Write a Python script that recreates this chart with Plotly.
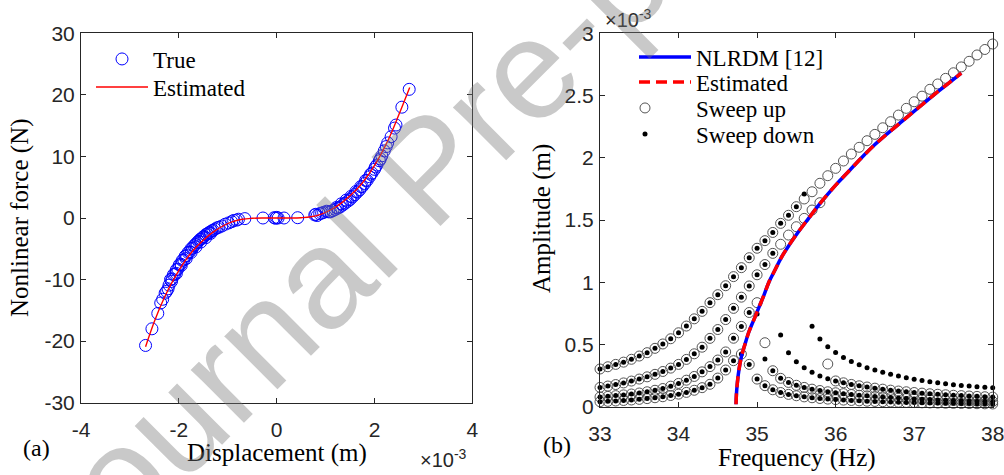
import plotly.graph_objects as go

# ---------------- panel (a): nonlinear restoring force ----------------
# displacement in units of 1e-3 m, force in N
true_disp = [
    -2.68, -2.55, -2.43, -2.37, -2.33, -2.28, -2.25, -2.22,
    -2.20, -2.17, -2.14, -2.11, -2.08, -2.05, -2.02, -1.99, -1.96, -1.93,
    -1.90, -1.87, -1.84, -1.81, -1.78, -1.75, -1.72, -1.69, -1.66, -1.63,
    -1.60, -1.57, -1.54, -1.51, -1.48, -1.45, -1.42, -1.39, -1.36, -1.33,
    -1.30, -1.26, -1.22, -1.18,
    -2.15, -2.05, -1.95, -1.85, -1.75, -1.65, -1.55, -1.45, -1.35,
    -1.12, -1.05, -0.98, -0.92, -0.88, -0.82, -0.78, -0.65,
    -0.28, -0.05, -0.02, 0.00, 0.03, 0.15, 0.43,
    0.78, 0.80, 0.83, 0.88, 0.92, 0.96, 1.02, 1.06,
    1.10, 1.15, 1.20, 1.25, 1.30, 1.35, 1.40, 1.45, 1.50, 1.55, 1.60,
    1.65, 1.70, 1.75, 1.80, 1.85, 1.90, 1.95, 2.00, 2.05, 2.10, 2.15, 2.20,
    1.22, 1.32, 1.42, 1.52, 1.62, 1.72, 1.82, 1.92, 2.02, 2.12,
    2.24, 2.27, 2.34, 2.41, 2.44, 2.56, 2.71,
]
true_force = [
    -20.7, -18.0, -15.5, -13.8, -13.2, -12.2, -11.9, -11.5,
    -10.9, -10.0, -9.9, -9.2, -9.1, -8.4, -8.3, -7.6, -7.5, -6.9,
    -6.8, -6.2, -6.1, -5.6, -5.5, -5.0, -4.9, -4.5, -4.3, -4.0,
    -3.8, -3.5, -3.4, -3.1, -3.0, -2.7, -2.6, -2.4, -2.3, -2.1,
    -2.0, -1.8, -1.6, -1.5,
    -10.3, -9.0, -7.7, -6.6, -5.6, -4.7, -3.9, -3.2, -2.5,
    -1.3, -1.0, -0.8, -0.6, -0.4, -0.35, -0.2, -0.1,
    0.0, 0.05, -0.05, 0.1, 0.0, 0.0, 0.05,
    0.5, 0.6, 0.4, 0.7, 0.8, 0.9, 1.1, 1.0,
    1.0, 1.2, 1.4, 1.6, 1.8, 2.1, 2.4, 2.7, 3.0, 3.4, 3.8,
    4.2, 4.6, 5.1, 5.6, 6.1, 6.7, 7.3, 7.9, 8.6, 9.3, 10.1, 10.9,
    1.7, 2.3, 2.9, 3.5, 4.3, 5.1, 6.1, 7.1, 8.3, 9.6,
    11.6, 12.2, 13.2, 14.6, 15.1, 18.0, 20.9,
]
est_disp = [-2.68, -2.5, -2.3, -2.1, -1.9, -1.7, -1.5, -1.3, -1.1, -0.9, -0.7,
            -0.5, -0.3, 0.0, 0.3, 0.5, 0.7, 0.9, 1.1, 1.3, 1.5, 1.7, 1.9, 2.1,
            2.3, 2.5, 2.72]
est_force = [-20.9, -16.8, -13.0, -9.9, -7.3, -5.2, -3.6, -2.3, -1.3, -0.6, -0.2,
             -0.05, 0.0, 0.0, 0.0, 0.05, 0.2, 0.6, 1.3, 2.3, 3.6, 5.2, 7.3, 9.9,
             13.0, 16.8, 21.2]
disp_ticks = [-4, -2, 0, 2, 4]
disp_labels = ["-4", "-2", "0", "2", "4"]
force_ticks = [-30, -20, -10, 0, 10, 20, 30]
force_labels = ["-30", "-20", "-10", "0", "10", "20", "30"]

# ---------------- panel (b): frequency responses ----------------
freq_hz = [33.0, 33.1, 33.2, 33.3, 33.4, 33.5, 33.6, 33.7, 33.8, 33.9,
           34.0, 34.1, 34.2, 34.3, 34.4, 34.5, 34.6, 34.7, 34.8, 34.9,
           35.0, 35.1, 35.2, 35.3, 35.4, 35.5, 35.6, 35.7, 35.8, 35.9,
           36.0, 36.1, 36.2, 36.3, 36.4, 36.5, 36.6, 36.7, 36.8, 36.9,
           37.0, 37.1, 37.2, 37.3, 37.4, 37.5, 37.6, 37.7, 37.8, 37.9, 38.0]

# amplitudes in units of 1e-3 m, four excitation levels
lvl1_up = [0.303, 0.321, 0.340, 0.358, 0.381, 0.407, 0.434, 0.469, 0.504, 0.546,
           0.594, 0.648, 0.706, 0.766, 0.836, 0.900, 0.972, 1.045, 1.117, 1.197,
           1.273, 1.334, 1.400, 1.473, 1.538, 1.607, 1.669, 1.727, 1.795, 1.856,
           1.915, 1.974, 2.030, 2.084, 2.137, 2.188, 2.241, 2.290, 2.343, 2.397,
           2.450, 2.495, 2.550, 2.593, 2.638, 2.683, 2.730, 2.775, 2.826, 2.870, 2.914]
lvl1_down = [0.303, 0.321, 0.340, 0.358, 0.381, 0.407, 0.434, 0.469, 0.504, 0.546,
             0.594, 0.648, 0.706, 0.766, 0.836, 0.900, 0.972, 1.045, 1.117, 1.197,
             1.273, 1.334, 1.400, 1.473, 1.538, 1.607, 1.709, 0.646, 0.544, 0.482,
             0.436, 0.396, 0.364, 0.338, 0.313, 0.295, 0.276, 0.260, 0.246, 0.233,
             0.221, 0.210, 0.200, 0.192, 0.185, 0.177, 0.171, 0.166, 0.161, 0.157, 0.153]
lvl2_up = [0.155, 0.166, 0.178, 0.191, 0.206, 0.222, 0.240, 0.260, 0.283, 0.310,
           0.340, 0.380, 0.425, 0.478, 0.549, 0.620, 0.700, 0.790, 0.880, 0.970,
           1.060, 1.142, 1.232, 1.305, 1.379, 1.446, 1.513, 1.580, 1.639, 0.343,
           0.207, 0.192, 0.179, 0.168, 0.158, 0.149, 0.141, 0.133, 0.126, 0.120,
           0.114, 0.109, 0.104, 0.100, 0.096, 0.092, 0.089, 0.086, 0.083, 0.080, 0.077]
lvl2_down = [0.155, 0.166, 0.178, 0.191, 0.206, 0.222, 0.240, 0.260, 0.283, 0.310,
             0.340, 0.380, 0.425, 0.478, 0.549, 0.620, 0.700, 0.790, 0.880, 0.970,
             1.060, 1.142, 1.232, 0.576, 0.434, 0.362, 0.313, 0.276, 0.246, 0.225,
             0.207, 0.192, 0.179, 0.168, 0.158, 0.149, 0.141, 0.133, 0.126, 0.120,
             0.114, 0.109, 0.104, 0.100, 0.096, 0.092, 0.089, 0.086, 0.083, 0.080, 0.077]
lvl3_up = [0.078, 0.083, 0.089, 0.095, 0.102, 0.110, 0.120, 0.132, 0.146, 0.165,
           0.187, 0.213, 0.243, 0.280, 0.322, 0.375, 0.440, 0.550, 0.645, 0.757,
           0.836, 0.514, 0.289, 0.228, 0.195, 0.172, 0.155, 0.141, 0.130, 0.120,
           0.112, 0.105, 0.098, 0.092, 0.087, 0.082, 0.077, 0.073, 0.069, 0.066,
           0.062, 0.059, 0.057, 0.054, 0.052, 0.050, 0.048, 0.046, 0.044, 0.043, 0.041]
lvl3_down = [0.078, 0.083, 0.089, 0.095, 0.102, 0.110, 0.120, 0.132, 0.146, 0.165,
             0.187, 0.213, 0.243, 0.280, 0.322, 0.375, 0.440, 0.550, 0.645, 0.757,
             0.745, 0.383, 0.289, 0.228, 0.195, 0.172, 0.155, 0.141, 0.130, 0.120,
             0.112, 0.105, 0.098, 0.092, 0.087, 0.082, 0.077, 0.073, 0.069, 0.066,
             0.062, 0.059, 0.057, 0.054, 0.052, 0.050, 0.048, 0.046, 0.044, 0.043, 0.041]
lvl4_up = [0.040, 0.043, 0.046, 0.050, 0.054, 0.059, 0.065, 0.072, 0.080, 0.090,
           0.101, 0.115, 0.132, 0.153, 0.180, 0.230, 0.295, 0.370, 0.423, 0.340,
           0.222, 0.169, 0.136, 0.114, 0.099, 0.088, 0.079, 0.072, 0.066, 0.061,
           0.057, 0.053, 0.050, 0.047, 0.044, 0.042, 0.040, 0.038, 0.036, 0.034,
           0.033, 0.031, 0.030, 0.029, 0.028, 0.027, 0.026, 0.025, 0.024, 0.023, 0.022]
lvl4_down = list(lvl4_up)

# backbone curves (amplitude in 1e-3 m vs frequency in Hz)
nlrdm_amp = [0.02, 0.1, 0.2, 0.3, 0.4, 0.5, 0.6, 0.7, 0.8, 0.9, 1.0, 1.1, 1.2, 1.3,
             1.4, 1.5, 1.6, 1.7, 1.8, 1.9, 2.0, 2.1, 2.2, 2.3, 2.4, 2.5, 2.6, 2.68]
nlrdm_freq = [34.732, 34.737, 34.75, 34.77, 34.80, 34.845, 34.895, 34.96, 35.025,
              35.09, 35.15, 35.23, 35.31, 35.41, 35.52, 35.64, 35.76, 35.89, 36.03,
              36.18, 36.33, 36.49, 36.67, 36.86, 37.05, 37.24, 37.44, 37.60]
est_amp = [0.02, 0.1, 0.2, 0.3, 0.4, 0.5, 0.6, 0.7, 0.8, 0.9, 1.0, 1.1, 1.2, 1.3,
           1.4, 1.5, 1.6, 1.7, 1.8, 1.9, 2.0, 2.1, 2.2, 2.3, 2.4, 2.5, 2.6, 2.68]
est_freq = [34.732, 34.737, 34.75, 34.77, 34.80, 34.845, 34.895, 34.96, 35.025,
            35.09, 35.15, 35.23, 35.31, 35.41, 35.52, 35.64, 35.76, 35.89, 36.03,
            36.18, 36.33, 36.49, 36.67, 36.86, 37.05, 37.24, 37.44, 37.60]
freq_ticks = [33, 34, 35, 36, 37, 38]
amp_ticks = [0, 0.5, 1, 1.5, 2, 2.5, 3]
amp_labels = ["0", "0.5", "1", "1.5", "2", "2.5", "3"]

W, H = 1004, 475
SANS = "Liberation Sans"
SERIF = "Liberation Serif"
AX = "#262626"


def px(x):
    return x / W


def py(y):
    return (H - y) / H


fig = go.Figure()

# panel (a)
fig.add_trace(go.Scatter(
    x=true_disp, y=true_force, mode="markers", name="True",
    marker=dict(symbol="circle-open", size=12, color="#0000ff", line=dict(width=1)),
    xaxis="x", yaxis="y", legend="legend", cliponaxis=False))
fig.add_trace(go.Scatter(
    x=est_disp, y=est_force, mode="lines", name="Estimated", line_shape="spline",
    line=dict(color="#ff0000", width=1.4),
    xaxis="x", yaxis="y", legend="legend3"))

# panel (b): sweep data
up_sets = [lvl1_up, lvl2_up, lvl3_up, lvl4_up]
down_sets = [lvl1_down, lvl2_down, lvl3_down, lvl4_down]
for i, amp in enumerate(up_sets):
    fig.add_trace(go.Scatter(
        x=freq_hz, y=amp, mode="markers", name="Sweep up", legendgroup="up",
        showlegend=(i == 0),
        marker=dict(symbol="circle-open", size=10, color="#555555", line=dict(width=1)),
        xaxis="x2", yaxis="y2", legend="legend5", cliponaxis=False))
for i, amp in enumerate(down_sets):
    fig.add_trace(go.Scatter(
        x=freq_hz, y=amp, mode="markers", name="Sweep down", legendgroup="down",
        showlegend=(i == 0),
        marker=dict(symbol="circle", size=5, color="#000000"),
        xaxis="x2", yaxis="y2", legend="legend6", cliponaxis=False))

fig.add_trace(go.Scatter(
    x=nlrdm_freq, y=nlrdm_amp, mode="lines", name="NLRDM [12]",
    line=dict(color="#0000ff", width=3.5), line_shape="spline",
    xaxis="x2", yaxis="y2", legend="legend2"))
fig.add_trace(go.Scatter(
    x=est_freq, y=est_amp, mode="lines", name="Estimated",
    line=dict(color="#ff0000", width=3.5, dash="11px,6px"), line_shape="spline",
    xaxis="x2", yaxis="y2", legend="legend4"))

axis_common = dict(
    showline=True, linecolor=AX, linewidth=1, mirror="ticks",
    ticks="inside", ticklen=5, tickcolor=AX, tickwidth=1,
    showgrid=False, zeroline=False, automargin=False, ticklabeloverflow="allow",
    tickfont=dict(family=SANS, size=21, color=AX),
)


def legend_row(x_text, y_row, size, itemwidth=30):
    # one legend entry per box so each row sits exactly where wanted
    return dict(x=px(x_text - itemwidth - 10), y=py(y_row), xanchor="left",
                yanchor="middle", bgcolor="rgba(0,0,0,0)", borderwidth=0,
                itemwidth=itemwidth, visible=True,
                font=dict(family=SERIF, size=size, color="#000"))


fig.update_layout(
    width=W, height=H,
    margin=dict(l=0, r=0, t=0, b=0),
    paper_bgcolor="white", plot_bgcolor="white",
    showlegend=True,
    xaxis=dict(domain=[px(81), px(472.3)], range=[-4, 4], tickvals=disp_ticks,
               ticktext=disp_labels, ticklabelstandoff=8, anchor="y", **axis_common),
    yaxis=dict(domain=[py(402.7), py(33.3)], range=[-30, 30],
               tickvals=force_ticks, ticktext=force_labels, ticklabelstandoff=1,
               anchor="x", **axis_common),
    xaxis2=dict(domain=[px(600), px(992.7)], range=[33, 38],
                tickvals=freq_ticks, ticklabelstandoff=8, anchor="y2", **axis_common),
    yaxis2=dict(domain=[py(406.7), py(33.3)], range=[0, 3],
                tickvals=amp_ticks, ticktext=amp_labels, ticklabelstandoff=1,
                anchor="x2", **axis_common),
    legend=legend_row(153, 59, 23, 52),
    legend3=legend_row(153, 87, 23, 52),
    legend2=legend_row(696, 57, 23, 52),
    legend4=legend_row(696, 82, 23, 52),
    legend5=legend_row(696, 108, 23, 92),
    legend6=legend_row(696, 134, 23, 92),
)

annotations = [
    dict(text="Displacement (m)", x=px(277), y=py(453), font=dict(family=SERIF, size=25)),
    dict(text="Nonlinear force (N)", x=px(20), y=py(218), textangle=-90,
         font=dict(family=SERIF, size=25)),
    dict(text="Frequency (Hz)", x=px(797), y=py(458), font=dict(family=SERIF, size=25)),
    dict(text="Amplitude (m)", x=px(542), y=py(219), textangle=-90,
         font=dict(family=SERIF, size=25)),
    dict(text="(a)", x=px(36), y=py(448), font=dict(family=SERIF, size=24)),
    dict(text="(b)", x=px(557), y=py(445), font=dict(family=SERIF, size=24)),
    dict(text="×10<sup>-3</sup>", x=px(418), y=py(458), xanchor="left",
         font=dict(family=SANS, size=20, color=AX)),
    dict(text="×10<sup>-3</sup>", x=px(603), y=py(18), xanchor="left",
         font=dict(family=SANS, size=20, color=AX)),
]
for a in annotations:
    a.setdefault("xanchor", "center")
    a.setdefault("yanchor", "middle")
    a.update(xref="paper", yref="paper", showarrow=False)
    a["font"].setdefault("color", "#000")
    fig.add_annotation(**a)

# watermark drawn over the figure
fig.add_annotation(
    text="Journal Pre-proof", x=px(428), y=py(168), xref="paper", yref="paper",
    showarrow=False, textangle=-45, xanchor="center", yanchor="middle",
    font=dict(family=SANS, size=142, color="rgba(120,120,120,0.4)"))

fig.write_html("out.html")
